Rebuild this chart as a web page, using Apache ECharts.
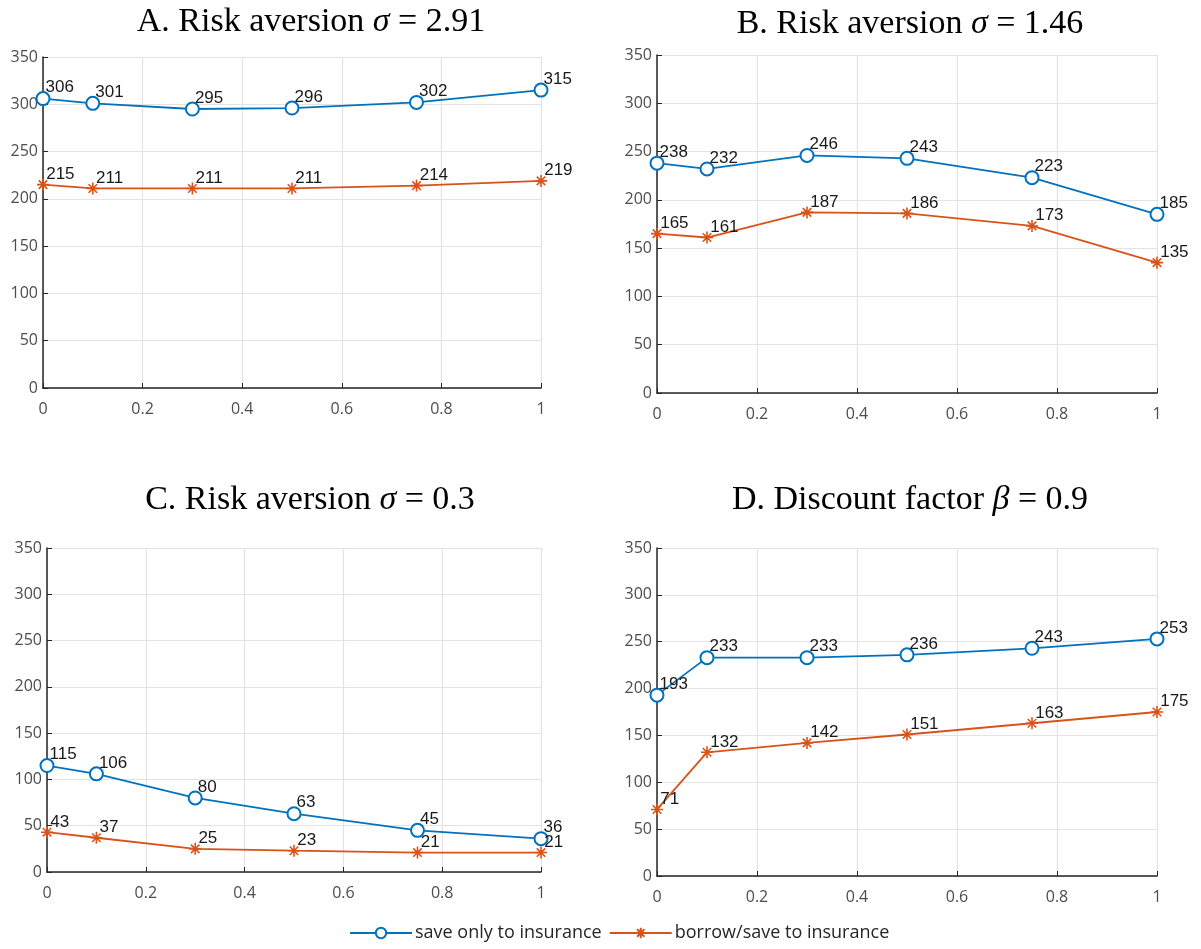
<!DOCTYPE html>
<html><head><meta charset="utf-8">
<script src="https://cdn.jsdelivr.net/npm/echarts@6/dist/echarts.min.js"></script>
<style>html,body{margin:0;padding:0;background:#fff}#c{width:1201px;height:949px}</style>
</head><body><div id="c"></div>
<script>
const xVals = [0, 0.1, 0.3, 0.5, 0.75, 1];
const xTicks = [0, 0.2, 0.4, 0.6, 0.8, 1];
const yTicks = [0, 50, 100, 150, 200, 250, 300, 350];
const seriesNames = ['save only to insurance', 'borrow/save to insurance'];
const titlesPre = ['A. Risk aversion ', 'B. Risk aversion ', 'C. Risk aversion ', 'D. Discount factor '];
const titlesSym = ['σ', 'σ', 'σ', 'β'];
const titlesPost = [' = 2.91', ' = 1.46', ' = 0.3', ' = 0.9'];
const saveA = [306, 301, 295, 296, 302, 315];
const borrowA = [215, 211, 211, 211, 214, 219];
const saveB = [238, 232, 246, 243, 223, 185];
const borrowB = [165, 161, 187, 186, 173, 135];
const saveC = [115, 106, 80, 63, 45, 36];
const borrowC = [43, 37, 25, 23, 21, 21];
const saveD = [193, 233, 233, 236, 243, 253];
const borrowD = [71, 132, 142, 151, 163, 175];

const saveAll = [saveA, saveB, saveC, saveD];
const borrowAll = [borrowA, borrowB, borrowC, borrowD];

const BLUE = '#0072BD', ORANGE = '#D95319';
const grids = [
  {left: 43, top: 57, width: 498, height: 331},
  {left: 657, top: 55, width: 500, height: 338},
  {left: 47, top: 548, width: 494, height: 324},
  {left: 657, top: 548, width: 500, height: 328}
];
const titlePos = [[306, 0], [905, 2], [305, 478], [905, 478]];
const asterisk = 'path://M0,-10L0,10M-10,0L10,0M-7.07,-7.07L7.07,7.07M-7.07,7.07L7.07,-7.07';
const axisFont = "'Open Sans', 'Noto Sans', sans-serif";
const labelFont = "'Liberation Sans', Arial, sans-serif";
const serif = "'Liberation Serif', 'DejaVu Serif', serif";

const option = {
  animation: false,
  backgroundColor: '#fff',
  title: titlesPre.map((t, i) => ({
    text: '{n|' + t + '}{i|' + titlesSym[i] + '}{n|' + titlesPost[i] + '}',
    left: titlePos[i][0], top: titlePos[i][1], textAlign: 'center',
    textStyle: {
      fontWeight: 'normal',
      rich: {
        n: {fontFamily: serif, fontSize: 34, fontWeight: 'normal', color: '#000'},
        i: {fontFamily: serif, fontSize: 34, fontWeight: 'normal', fontStyle: 'italic', color: '#000'}
      }
    }
  })),
  legend: {
    bottom: 2, left: 344,
    itemWidth: 62, itemHeight: 13, itemGap: 7,
    textStyle: {fontFamily: axisFont, fontSize: 18, color: '#262626', padding: [0, 0, 0, -2]},
    data: seriesNames
  },
  grid: grids,
  xAxis: grids.map((g, i) => ({
    type: 'value', gridIndex: i, min: 0, max: 1, interval: 0.2,
    axisLine: {show: true, onZero: false, lineStyle: {color: '#262626', width: 1.5}},
    axisTick: {show: true, inside: true, length: 5, lineStyle: {color: '#262626'}},
    axisLabel: {fontFamily: axisFont, fontSize: 16, color: '#4d4d4d', margin: 13,
      formatter: v => { const k = xTicks.find(t => Math.abs(t - v) < 1e-9); return k === undefined ? '' : String(k); }},
    splitLine: {show: true, lineStyle: {color: '#e3e3e3', width: 1.2}}
  })),
  yAxis: grids.map((g, i) => ({
    type: 'value', gridIndex: i, min: 0, max: 350, interval: 50,
    axisLine: {show: true, onZero: false, lineStyle: {color: '#262626', width: 1.5}},
    axisTick: {show: true, inside: true, length: 5, lineStyle: {color: '#262626'}},
    axisLabel: {fontFamily: axisFont, fontSize: 16, color: '#4d4d4d', margin: 5,
      formatter: v => yTicks.includes(v) ? String(v) : ''},
    splitLine: {show: true, lineStyle: {color: '#e3e3e3', width: 1.2}}
  })),
  series: []
};

const labelCfg = {show: true, position: [10, -12], fontFamily: labelFont, fontSize: 17, color: '#1a1a1a'};
for (let i = 0; i < 4; i++) {
  option.series.push({
    name: seriesNames[0], type: 'line', xAxisIndex: i, yAxisIndex: i,
    data: xVals.map((x, j) => [x, saveAll[i][j]]),
    symbol: 'emptyCircle', symbolSize: 13,
    itemStyle: {color: BLUE, borderWidth: 1.8},
    lineStyle: {color: BLUE, width: 1.8},
    label: labelCfg, z: 3
  });
  option.series.push({
    name: seriesNames[1], type: 'line', xAxisIndex: i, yAxisIndex: i,
    data: xVals.map((x, j) => [x, borrowAll[i][j]]),
    symbol: asterisk, symbolSize: 12,
    itemStyle: {color: ORANGE, borderColor: ORANGE, borderWidth: 1.6},
    lineStyle: {color: ORANGE, width: 1.8},
    label: labelCfg, z: 3
  });
}
echarts.init(document.getElementById('c'), null, {renderer: 'canvas'}).setOption(option);
</script></body></html>
